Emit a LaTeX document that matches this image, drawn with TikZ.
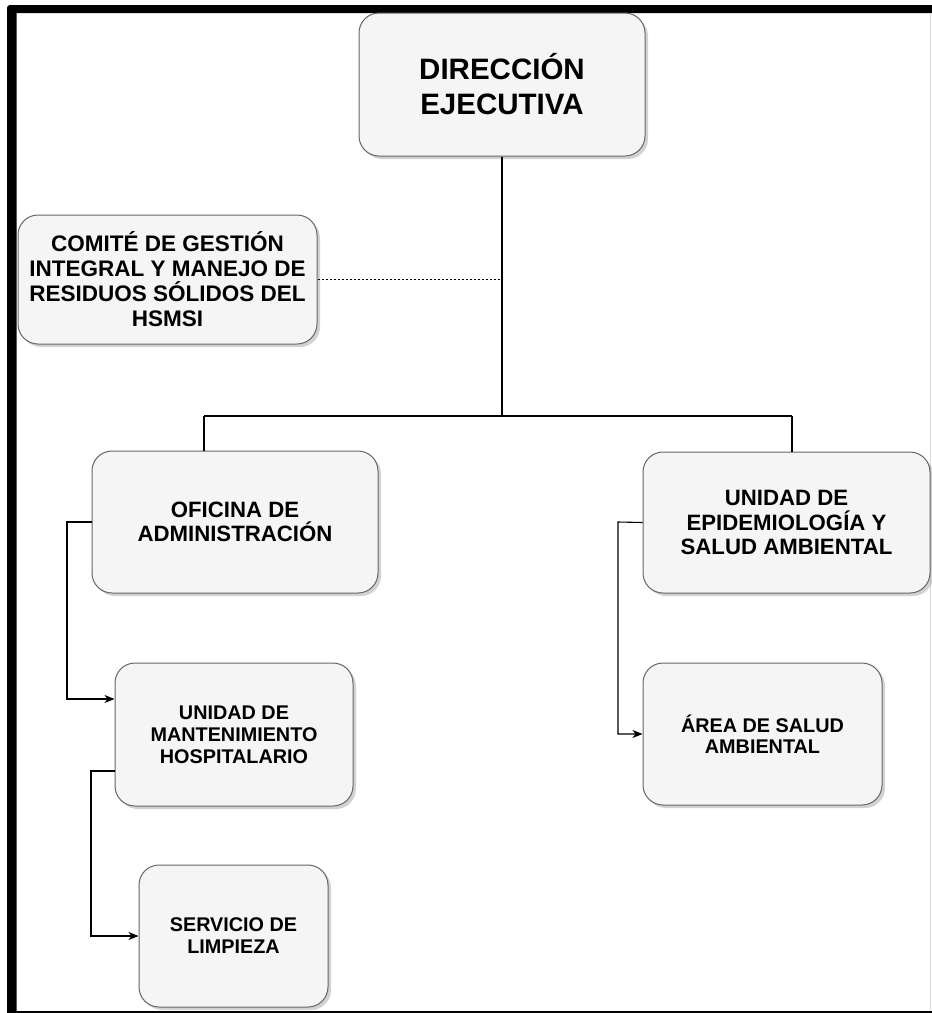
\documentclass[tikz,border=0pt]{standalone}
\usepackage{fontspec}
\setmainfont{Liberation Sans}
\usetikzlibrary{arrows.meta,shadows,calc}
\definecolor{boxfill}{HTML}{F5F5F5}
\definecolor{boxline}{HTML}{666666}
\tikzset{
  unit/.style={draw=boxline, fill=boxfill, line width=1pt, rounded corners=20pt,
    align=center, font=\bfseries, inner sep=0pt,
    drop shadow={shadow xshift=3pt, shadow yshift=-3pt, opacity=0.35, fill=gray}},
  conn/.style={draw=black, line width=1.1pt},
  arr/.style={conn, -{Stealth[length=10pt,width=8pt,inset=3pt]}},
  dotline/.style={draw=black, line width=1pt, dash pattern=on 2pt off 2pt},
  bigtxt/.style={font=\bfseries\fontsize{29.5}{35}\selectfont},
  midtxt/.style={font=\bfseries\fontsize{22.2}{24.5}\selectfont},
  smalltxt/.style={font=\bfseries\fontsize{19.8}{22}\selectfont}
}
\begin{document}
\begin{tikzpicture}[x=1pt,y=-1pt]
\useasboundingbox (0,0) rectangle (932,1013);
\fill[white] (0,0) rectangle (932,1013);
% frame
\fill[black] (932,5) -- (10,5) arc[start angle=90, end angle=180, radius=3pt] -- (7,1013) -- (16.5,1013) -- (16.5,13) -- (932,13) -- cycle;
\fill[black] (16,1011.3) rectangle (932,1013);
\draw[black!15, line width=0.8pt] (930.8,13) -- (930.8,1011);
% nodes
\node[unit, bigtxt, minimum width=286pt, minimum height=143pt] (de) at (502,84.5) {DIRECCIÓN\\EJECUTIVA};
\node[unit, midtxt, font=\bfseries\fontsize{22.5}{25}\selectfont, minimum width=299pt, minimum height=129pt] (com) at (167.5,279.5) {COMITÉ DE GESTIÓN\\INTEGRAL Y MANEJO DE\\RESIDUOS SÓLIDOS DEL\\HSMSI};
\node[unit, midtxt, minimum width=286pt, minimum height=142pt] (ofi) at (235,522) {OFICINA DE\\ADMINISTRACIÓN};
\node[unit, midtxt, minimum width=287pt, minimum height=141pt] (epi) at (786.5,522.5) {UNIDAD DE\\EPIDEMIOLOGÍA Y\\SALUD AMBIENTAL};
\node[unit, smalltxt, minimum width=238pt, minimum height=143pt] (man) at (234,734.5) {UNIDAD DE\\MANTENIMIENTO\\HOSPITALARIO};
\node[unit, smalltxt, minimum width=189pt, minimum height=142pt] (ser) at (233.5,936) {SERVICIO DE\\LIMPIEZA};
\node[unit, smalltxt, font=\bfseries\fontsize{19.8}{20.5}\selectfont, minimum width=239pt, minimum height=142pt] (are) at (762.5,734) {ÁREA DE SALUD\\AMBIENTAL};
% connectors
\coordinate (bl) at (204,416);
\coordinate (br) at (792,416);
\draw[conn] (de.south) -- (de.south |- bl);
\draw[conn] (bl) -- (br);
\draw[conn] (bl) -- (bl |- ofi.north);
\draw[conn] (br) -- (br |- epi.north);
\draw[dotline] (com.east) -- (com.east -| de.south);
\coordinate (ol) at (67,522);
\draw[arr] (ofi.west) -- (ol) |- ([yshift=35.5pt]man.west);
\coordinate (ml) at (91,771);
\draw[arr] ([yshift=-36.5pt]man.west) -- (ml) |- (ser.west);
\coordinate (el) at (618,522);
\draw[arr] (epi.west) -- (el) |- (are.west);
\end{tikzpicture}
\end{document}
